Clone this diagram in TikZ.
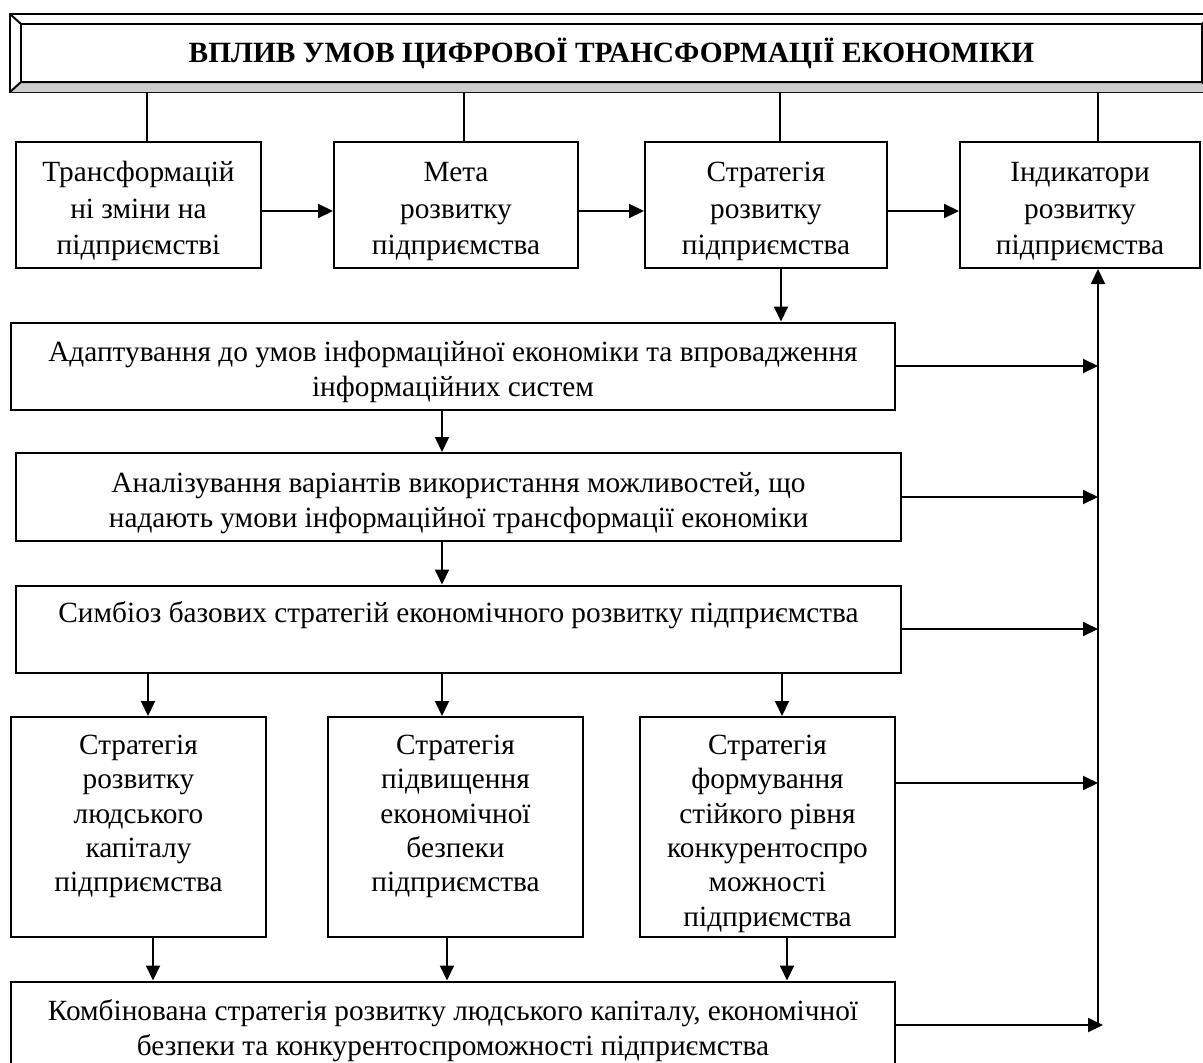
\documentclass[tikz,border=0pt]{standalone}
\usepackage{fontspec}
\setmainfont{Liberation Serif}
\usetikzlibrary{arrows.meta}
\newcommand{\tp}{\rule{0pt}{33pt}}
\newcommand{\tpp}{\rule{0pt}{37pt}}
\begin{document}
\begin{tikzpicture}[x=1pt,y=-1pt,
  ln/.style={line width=2pt},
  box/.style={draw, line width=2pt, inner sep=0pt, align=center,
              font=\fontsize{29.3}{35}\selectfont},
  toprow/.style={box, minimum height=126pt, font=\fontsize{29.3}{36.5}\selectfont},
  widebox/.style={box, minimum width=885pt, minimum height=87pt},
  tallbox/.style={box, minimum width=255pt, minimum height=220pt, font=\fontsize{29.3}{34.3}\selectfont},
  arr/.style={line width=2pt, -{Triangle[length=15pt,width=14pt]}}]
\useasboundingbox (0,0) rectangle (1203,1063);
\begin{scope}
\clip (0,0) rectangle (1203,1063);
% title frame
\draw[ln] (10,14) rectangle (1213,92);
\draw[ln, fill=black!20] (10,92) -- (21,82) -- (1202,82) -- (1213,92);
\draw[ln] (10,14) -- (21,24);
\draw[ln] (1213,14) -- (1202,24);
\node[draw, ln, minimum width=1181pt, minimum height=58pt, inner sep=0pt,
      font=\fontsize{29.4}{36}\selectfont\bfseries] (title) at (611.5,53)
      {ВПЛИВ УМОВ ЦИФРОВОЇ ТРАНСФОРМАЦІЇ ЕКОНОМІКИ};
\coordinate (tbot) at (0,92);
% top row
\node[toprow, minimum width=245pt] (b1) at (138.5,205) {\tp Трансформацій\\ні зміни на\\підприємстві};
\node[toprow, minimum width=244pt] (b2) at (456,205) {\tp Мета\\розвитку\\підприємства};
\node[toprow, minimum width=242pt] (b3) at (766,205) {\tp Стратегія\\розвитку\\підприємства};
\node[toprow, minimum width=240pt] (b4) at (1080,205) {\tp Індикатори\\розвитку\\підприємства};
% wide boxes
\node[widebox, minimum width=884pt] (ad) at (453,366) {\tp Адаптування до умов інформаційної економіки та впровадження\\інформаційних систем};
\node[widebox, minimum height=88pt] (an) at (458.5,497) {\tp Аналізування варіантів використання можливостей, що\\надають умови інформаційної трансформації економіки};
\node[widebox] (sy) at (458.5,629) {\tp Симбіоз базових стратегій економічного розвитку підприємства\\\strut};
% tall boxes
\node[tallbox] (sa) at (138.5,827) {\tpp Стратегія\\розвитку\\людського\\капіталу\\підприємства\\\strut};
\node[tallbox] (sb) at (455.5,827) {\tpp Стратегія\\підвищення\\економічної\\безпеки\\підприємства\\\strut};
\node[tallbox] (sc) at (767.5,827) {\tp Стратегія\\формування\\стійкого рівня\\конкурентоспро\\можності\\підприємства};
% combined
\node[widebox, minimum width=884pt] (cm) at (453,1025) {\tp Комбінована стратегія розвитку людського капіталу, економічної\\безпеки та конкурентоспроможності підприємства};
% bus
\coordinate (busbot) at (1098,1025);
% lines from title
\draw[ln] ([xshift=8.5pt]b1.north) -- ([xshift=8.5pt]b1.north |- tbot);
\draw[ln] ([xshift=8pt]b2.north) -- ([xshift=8pt]b2.north |- tbot);
\draw[ln] ([xshift=14pt]b3.north) -- ([xshift=14pt]b3.north |- tbot);
\draw[ln] ([xshift=18pt]b4.north) -- ([xshift=18pt]b4.north |- tbot);
% top row arrows
\draw[arr] ([yshift=-6pt]b1.east) -- ([yshift=-6pt]b1.east -| b2.west);
\draw[arr] ([yshift=-6pt]b2.east) -- ([yshift=-6pt]b2.east -| b3.west);
\draw[arr] ([yshift=-6pt]b3.east) -- ([yshift=-6pt]b3.east -| b4.west);
% vertical chain
\draw[arr] ([xshift=15pt]b3.south) -- ([xshift=15pt]b3.south |- ad.north);
\draw[arr] ([xshift=-11pt]ad.south) -- ([xshift=-11pt]ad.south |- an.north);
\draw[arr] ([xshift=-16.5pt]an.south) -- ([xshift=-16.5pt]an.south |- sy.north);
\draw[arr] ([xshift=-310.5pt]sy.south) -- ([xshift=-310.5pt]sy.south |- sa.north);
\draw[arr] ([xshift=-16.5pt]sy.south) -- ([xshift=-16.5pt]sy.south |- sb.north);
\draw[arr] ([xshift=323.5pt]sy.south) -- ([xshift=323.5pt]sy.south |- sc.north);
\draw[arr] ([xshift=14.5pt]sa.south) -- ([xshift=14.5pt]sa.south |- cm.north);
\draw[arr] ([xshift=-8.5pt]sb.south) -- ([xshift=-8.5pt]sb.south |- cm.north);
\draw[arr] ([xshift=19.5pt]sc.south) -- ([xshift=19.5pt]sc.south |- cm.north);
% arrows to bus
\draw[arr] (ad.east) -- (ad.east -| busbot);
\draw[arr] (an.east) -- (an.east -| busbot);
\draw[arr] (sy.east) -- (sy.east -| busbot);
\draw[arr] ([yshift=44pt]sc.east) -- ([yshift=44pt]sc.east -| busbot);
\draw[arr] (cm.east) -- ([xshift=5pt]cm.east -| busbot);
% bus up
\draw[arr] (busbot) -- (busbot |- b4.south);
\end{scope}
\end{tikzpicture}
\end{document}
